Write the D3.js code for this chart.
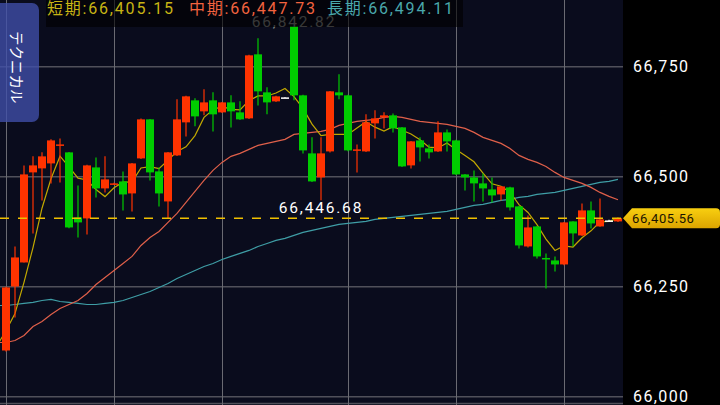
<!DOCTYPE html>
<html>
<head>
<meta charset="utf-8">
<script src="https://cdn.jsdelivr.net/npm/d3@7"></script>
<style>
body { margin: 0; background: #000; }
svg { display: block; }
</style>
</head>
<body>
<svg width="720" height="405"></svg>
<script>
const width = 720, height = 405, plotRight = 623;

// OHLC per candle (oldest first)
const opens  = [66105.0,66250.5,66305.1,66509.8,66518.9,66530.2,66571.2,66555.3,66407.4,66405.2,66521.1,66473.4,66483.6,66489.3,66462.0,66541.6,66630.3,66512.1,66443.8,66548.4,66623.5,66673.5,66648.5,66673.5,66646.2,66668.9,66646.2,66632.6,66778.1,66691.7,66671.2,66680.3,66841.8,66684.9,66553.0,66498.4,66557.5,66691.7,66684.9,66561.0,66557.5,66621.2,66634.9,66639.4,66612.1,66525.7,66582.5,66564.3,66557.5,66600.7,66582.5,66505.2,66498.4,66484.8,66471.1,66459.7,66475.7,66432.5,66341.5,66387.0,66315.3,66309.7,66300.6,66398.4,66366.5,66423.4,66387.0,66400.6,66398.4];
const highs  = [66250.0,66341.5,66525.7,66546.2,66555.3,66585.0,66587.0,66556.0,66480.2,66527.0,66543.9,66546.2,66486.0,66512.1,66531.0,66632.0,66631.0,66521.1,66556.0,66675.8,66684.0,66678.1,66698.5,66691.7,66670.0,66684.9,66671.2,66777.0,66814.5,66703.1,66684.0,66681.0,66842.82,66686.0,66589.4,66589.4,66695.0,66732.6,66686.0,66573.4,66641.7,66650.8,66646.2,66643.9,66613.0,66581.0,66589.4,66573.4,66625.8,66607.5,66584.0,66506.0,66514.3,66507.5,66498.4,66479.0,66477.0,66434.0,66412.0,66388.0,66325.6,66318.8,66397.0,66399.0,66439.3,66443.8,66450.6,66402.0,66407.0];
const lows   = [66103.0,66180.0,66305.1,66371.1,66446.1,66484.8,66487.0,66383.0,66362.0,66368.8,66452.9,66464.3,66482.0,66423.4,66421.1,66540.0,66491.6,66432.5,66405.2,66547.0,66591.6,66614.4,66639.4,66603.0,66645.0,66612.1,66629.0,66631.0,66662.1,66641.7,66670.0,66679.5,66673.5,66553.0,66488.0,66446.68,66555.0,66675.8,66558.0,66509.8,66556.0,66587.1,66609.8,66600.7,66522.0,66518.9,66534.8,66541.6,66556.0,66557.5,66504.0,66468.8,66443.8,66443.8,66441.5,66446.1,66423.4,66337.0,66339.2,66314.2,66246.0,66284.6,66299.0,66341.5,66365.0,66382.4,66386.0,66399.0,66397.0];
const closes = [66248.3,66316.5,66505.2,66525.7,66546.2,66582.5,66573.4,66384.7,66396.1,66525.7,66473.4,66493.9,66484.8,66459.7,66530.2,66630.3,66509.8,66462.0,66555.3,66630.3,66682.6,66637.1,66668.9,66641.7,66668.9,66648.5,66630.3,66775.8,66694.0,66668.9,66682.6,66680.3,66684.9,66559.8,66489.3,66553.0,66694.0,66684.9,66559.8,66562.1,66623.5,66632.6,66639.4,66609.8,66523.4,66580.3,66566.6,66555.3,66600.7,66580.3,66505.2,66498.4,66484.8,66473.4,66457.5,66477.9,66430.2,66343.8,66384.7,66318.8,66314.2,66300.6,66396.1,66371.1,66423.4,66393.8,66402.9,66400.6,66405.56];

// moving averages, first value belongs to the candle just left of the view
const maShort = [66116,66150,66189,66260,66339,66428.4,66495.2,66546.6,66522.5,66496.6,66492.5,66470.7,66454.8,66474.8,66487.5,66488.4,66519.8,66523.0,66518.4,66537.5,66557.5,66568.0,66593.5,66634.8,66652.1,66659.8,66653.0,66651.7,66673.0,66683.5,66683.5,66690.3,66700.3,66682.1,66655.3,66619.4,66593.5,66596.2,66596.2,66596.2,66610.8,66624.9,66612.6,66603.5,66613.5,66605.7,66597.1,66583.9,66567.1,66565.3,66576.6,66561.6,66548.0,66533.9,66508.4,66483.9,66478.4,66464.8,66436.6,66418.8,66391.1,66358.3,66332.4,66342.9,66340.2,66361.1,66377.0,66397.5,66398.4,66405.15];
const maMid = [66123.2,66123.2,66127.7,66139.1,66159.6,66171.0,66186.9,66200.5,66209.6,66218.7,66234.6,66255.1,66271.0,66286.9,66302.8,66318.8,66343.8,66361.9,66375.6,66396.1,66416.5,66441.5,66466.6,66491.6,66514.3,66532.5,66546.2,66553.0,66562.1,66571.2,66575.7,66580.3,66584.8,66596.2,66598.5,66600.7,66603.0,66607.6,66616.6,66621.2,66625.7,66628.0,66630.3,66634.8,66637.1,66634.8,66630.3,66625.7,66623.5,66621.2,66618.9,66614.4,66609.8,66600.7,66589.4,66582.5,66575.7,66564.3,66548.4,66539.3,66532.5,66523.4,66509.8,66498.4,66491.6,66484.8,66475.7,66464.3,66455.2,66447.73];
const maLong = [66207.3,66207.3,66209.6,66211.9,66214.2,66218.7,66221.0,66216.4,66214.2,66211.9,66209.6,66209.6,66211.9,66214.2,66218.7,66225.5,66232.3,66239.2,66248.3,66257.3,66268.7,66277.8,66286.9,66296.0,66302.8,66311.9,66318.8,66325.6,66332.4,66341.5,66348.3,66355.2,66359.7,66366.5,66373.3,66377.9,66382.4,66387.0,66391.5,66393.8,66396.1,66398.4,66402.9,66405.2,66407.4,66409.7,66412.0,66414.3,66416.5,66418.8,66421.1,66425.6,66430.2,66434.7,66437.0,66441.5,66446.1,66448.4,66452.9,66455.2,66459.7,66462.0,66464.3,66468.8,66473.3,66477.9,66482.4,66487.0,66489.3,66494.11];

const priceTicks = [66000, 66250, 66500, 66750];
const timeTicks = [0, 12, 24, 38, 50, 62];
const lowMarkIndex = 35;
const legendNames = ["短期", "中期", "長期"];
const legendValues = [66405.15, 66447.73, 66494.11];

const colors = { up: "#ff3300", down: "#00cc00", flat: "#ffffff" };
const maColors = ["#c2a800", "#e0604a", "#3f9ea6"];
const legendColors = ["#c8b414", "#f2633f", "#4aa8ac"];
const fmt = d3.format(",.2f");
const numFont = "Roboto, 'Noto Sans CJK JP', sans-serif";

const svg = d3.select("svg");
const x = d3.scaleLinear().domain([0, closes.length - 1]).range([6, 618]);
const y = d3.scaleLinear().domain([66000, 66750]).range([396.7, 66.7]);
const bodyW = 8;

const candles = closes.map((c, i) => ({i, o: opens[i], h: highs[i], l: lows[i], c}));
const candleColor = d => d.c > d.o ? colors.up : d.c < d.o ? colors.down : colors.flat;

// backgrounds
svg.append("rect").attr("width", width).attr("height", height).attr("fill", "#000");
svg.append("rect").attr("width", plotRight).attr("height", height).attr("fill", "#0a0c1d");
svg.append("defs").append("clipPath").attr("id", "plot")
  .append("rect").attr("width", plotRight).attr("height", height);

const plot = svg.append("g").attr("clip-path", "url(#plot)");

// grid
plot.selectAll(".hgrid").data(priceTicks).enter().append("line")
  .attr("x1", 0).attr("x2", plotRight)
  .attr("y1", d => y(d)).attr("y2", d => y(d))
  .attr("stroke", "#50505a").attr("stroke-width", 1.5);
plot.append("line").attr("x1", 0).attr("x2", plotRight).attr("y1", 403.5).attr("y2", 403.5)
  .attr("stroke", "#50505a").attr("stroke-width", 1.5);
plot.selectAll(".vgrid").data(timeTicks).enter().append("line")
  .attr("x1", d => x(d) + 0.5).attr("x2", d => x(d) + 0.5)
  .attr("y1", 0).attr("y2", height)
  .attr("stroke", "#6a6a72").attr("stroke-width", 1);

// moving averages
const maLine = d3.line().x((d, i) => x(i - 1)).y(d => y(d));
[maLong, maMid, maShort].forEach((series, k) => {
  plot.append("path").datum(series)
    .attr("fill", "none")
    .attr("stroke", maColors[2 - k])
    .attr("stroke-width", 1.2)
    .attr("d", maLine);
});

// candles
const cg = plot.selectAll(".candle").data(candles).enter().append("g");
cg.append("line")
  .attr("x1", d => x(d.i)).attr("x2", d => x(d.i))
  .attr("y1", d => y(d.h)).attr("y2", d => y(d.l))
  .attr("stroke", candleColor).attr("stroke-width", 1.2);
cg.append("rect")
  .attr("x", d => x(d.i) - bodyW / 2)
  .attr("width", bodyW)
  .attr("y", d => y(Math.max(d.o, d.c)))
  .attr("height", d => Math.max(1.5, Math.abs(y(d.o) - y(d.c))))
  .attr("fill", candleColor);

// current price line
const last = closes[closes.length - 1];
plot.append("line")
  .attr("x1", 0).attr("x2", plotRight)
  .attr("y1", y(last)).attr("y2", y(last))
  .attr("stroke", "#f0c000").attr("stroke-width", 1.3)
  .attr("stroke-dasharray", "9,9");

// high / low marks
const hiIdx = d3.maxIndex(highs);
svg.append("text")
  .attr("x", x(hiIdx)).attr("y", 26.5)
  .attr("text-anchor", "middle")
  .style("font", `15.5px ${numFont}`).style("letter-spacing", "1.8px")
  .attr("fill", "#8c8c8c")
  .text(fmt(highs[hiIdx]));
svg.append("text")
  .attr("x", x(lowMarkIndex)).attr("y", y(lows[lowMarkIndex]) + 12.5)
  .attr("text-anchor", "middle")
  .style("font", `15.5px ${numFont}`).style("letter-spacing", "1.8px")
  .attr("fill", "#ffffff")
  .text(fmt(lows[lowMarkIndex]));

// right axis
const axis = svg.append("g")
  .attr("transform", `translate(633,0)`)
  .call(d3.axisRight(y).tickValues(priceTicks).tickFormat(d3.format(",")).tickSize(0).tickPadding(0));
axis.select(".domain").remove();
axis.selectAll("text")
  .attr("fill", "#ffffff")
  .style("font", `16px ${numFont}`).style("letter-spacing", "1.4px");

// price tag
const defs = svg.select("defs");
const grad = defs.append("linearGradient").attr("id", "tag").attr("x1", 0).attr("x2", 0).attr("y1", 0).attr("y2", 1);
grad.append("stop").attr("offset", 0).attr("stop-color", "#f8cf10");
grad.append("stop").attr("offset", 1).attr("stop-color", "#dca400");
const ty = y(last);
svg.append("path")
  .attr("d", `M623,${ty} L632,${ty - 10} L716,${ty - 10} Q720,${ty - 10} 720,${ty - 6} L720,${ty + 6} Q720,${ty + 10} 716,${ty + 10} L632,${ty + 10} Z`)
  .attr("fill", "url(#tag)");
svg.append("text")
  .attr("x", 632).attr("y", ty + 4.5)
  .style("font", `13px ${numFont}`).style("letter-spacing", "0.6px")
  .attr("fill", "#1a1400")
  .text(fmt(last));

// legend panel
svg.append("rect").attr("x", 46).attr("y", 0).attr("width", 417).attr("height", 27)
  .attr("fill", "rgba(0,0,0,0.6)");
const legendX = [47, 189, 327];
legendNames.forEach((name, k) => {
  svg.append("text")
    .attr("x", legendX[k]).attr("y", 14)
    .style("font", `16px ${numFont}`).style("letter-spacing", "1.8px")
    .attr("fill", legendColors[k])
    .text(`${name}:${fmt(legendValues[k])}`);
});

// side tab
svg.append("rect").attr("x", -8).attr("y", 3).attr("width", 47).attr("height", 119).attr("rx", 7)
  .attr("fill", "rgba(64,80,170,0.78)");
svg.append("text")
  .attr("transform", "translate(17,31) rotate(90)")
  .attr("dominant-baseline", "central")
  .style("font", "14.5px 'Noto Sans CJK JP', sans-serif")
  .attr("fill", "#ffffff")
  .text("テクニカル");
</script>
</body>
</html>
